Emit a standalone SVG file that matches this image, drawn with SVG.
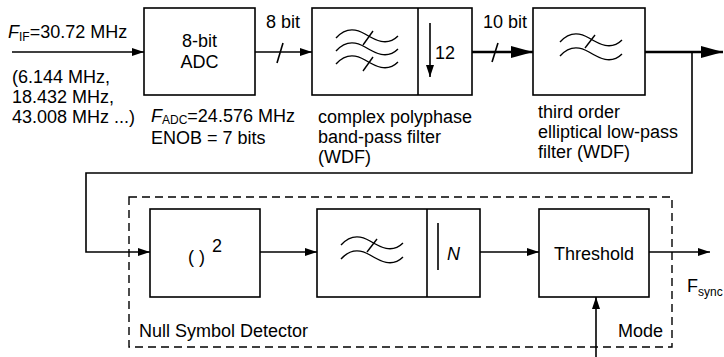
<svg xmlns="http://www.w3.org/2000/svg" width="724" height="357" viewBox="0 0 724 357">
<style>
text{font-family:"Liberation Sans",Arial,sans-serif;font-size:18px;fill:#000}
.box{fill:#fff;stroke:#000;stroke-width:1.6}
.ln{fill:none;stroke:#000;stroke-width:1.6}
.thick{fill:none;stroke:#000;stroke-width:2.6}
.wave{fill:none;stroke:#000;stroke-width:1.4}
.dash{fill:none;stroke:#000;stroke-width:1.4;stroke-dasharray:8,5}
.sub{font-size:12px}
</style>
<defs>
<marker id="ah" markerWidth="12" markerHeight="8" refX="12" refY="4" orient="auto" markerUnits="userSpaceOnUse"><path d="M0,0 L12,4 L0,8 Z" fill="#000"/></marker>
<marker id="ahb" markerWidth="22" markerHeight="12" refX="22" refY="6" orient="auto" markerUnits="userSpaceOnUse"><path d="M0,0 L22,6 L0,12 Z" fill="#000"/></marker>
<path id="wv" d="M0,7 C9,-3 19,-3 29,3 S51,16 62,5"/>
</defs>

<g id="connectors">
<line class="ln" x1="12" y1="52" x2="144" y2="52" marker-end="url(#ah)"/>
<line class="ln" x1="255" y1="52" x2="312" y2="52" marker-end="url(#ah)"/>
<line class="ln" x1="283" y1="43" x2="277" y2="63"/>
<line class="thick" x1="472" y1="52" x2="533" y2="52" marker-end="url(#ahb)"/>
<line class="ln" x1="498" y1="43" x2="492" y2="62"/>
<line class="thick" x1="645" y1="52" x2="723" y2="52" marker-end="url(#ahb)"/>
<polyline class="ln" points="692,52 692,173 86,173 86,252 150,252" marker-end="url(#ah)"/>
<line class="ln" x1="260" y1="252" x2="317" y2="252" marker-end="url(#ah)"/>
<line class="ln" x1="480" y1="252" x2="539" y2="252" marker-end="url(#ah)"/>
<line class="ln" x1="649" y1="252" x2="710" y2="252" marker-end="url(#ah)"/>
<line class="ln" x1="596" y1="357" x2="596" y2="297" marker-end="url(#ah)"/>
</g>

<g id="labels">
<text x="8" y="38"><tspan font-style="italic">F</tspan><tspan class="sub" dy="3">IF</tspan><tspan dy="-3">=30.72 MHz</tspan></text>
<text x="12" y="83">(6.144 MHz,</text>
<text x="12" y="103">18.432 MHz,</text>
<text x="12" y="123">43.008 MHz ...)</text>
<text x="266" y="28">8 bit</text>
<text x="483" y="28">10 bit</text>
</g>

<g id="adc">
<rect class="box" x="144" y="8" width="111" height="87"/>
<text x="199.5" y="47" text-anchor="middle">8-bit</text>
<text x="199.5" y="68" text-anchor="middle">ADC</text>
<text x="151" y="122"><tspan font-style="italic">F</tspan><tspan class="sub" dy="2">ADC</tspan><tspan dy="-2">=24.576 MHz</tspan></text>
<text x="151" y="144">ENOB = 7 bits</text>
</g>

<g id="polyphase">
<rect class="box" x="312" y="8" width="160" height="87"/>
<line class="ln" x1="418" y1="8" x2="418" y2="95"/>
<use href="#wv" class="wave" x="336" y="31"/>
<use href="#wv" class="wave" x="336" y="44"/>
<use href="#wv" class="wave" x="336" y="57"/>
<line class="wave" x1="373" y1="31" x2="363" y2="45"/>
<line class="wave" x1="373" y1="57" x2="363" y2="71"/>
<line class="ln" x1="430" y1="23" x2="430" y2="77" marker-end="url(#ah)"/>
<text x="435" y="59">12</text>
<text x="318" y="123">complex polyphase</text>
<text x="318" y="143">band-pass filter</text>
<text x="318" y="163">(WDF)</text>
</g>

<g id="lowpass">
<rect class="box" x="533" y="8" width="112" height="87"/>
<use href="#wv" class="wave" x="560" y="35"/>
<use href="#wv" class="wave" x="560" y="49"/>
<line class="wave" x1="595" y1="35" x2="585" y2="48"/>
<text x="538" y="118">third order</text>
<text x="538" y="138">elliptical low-pass</text>
<text x="538" y="158">filter (WDF)</text>
</g>

<g id="detector">
<rect class="dash" x="129" y="197" width="543" height="150"/>
<text x="139" y="337">Null Symbol Detector</text>
<text x="618" y="337">Mode</text>
</g>

<g id="square">
<rect class="box" x="150" y="209" width="110" height="88"/>
<text x="188" y="263">( )</text>
<text x="212" y="252">2</text>
</g>

<g id="lpdec">
<rect class="box" x="317" y="209" width="163" height="88"/>
<line class="ln" x1="427" y1="209" x2="427" y2="297"/>
<use href="#wv" class="wave" x="341" y="238"/>
<use href="#wv" class="wave" x="341" y="252"/>
<line class="wave" x1="377" y1="239" x2="367" y2="252"/>
<line class="ln" x1="438" y1="223" x2="438" y2="270"/>
<text x="447" y="260" font-style="italic">N</text>
</g>

<g id="threshold">
<rect class="box" x="539" y="209" width="110" height="88"/>
<text x="594" y="260" text-anchor="middle">Threshold</text>
<text x="687" y="292">F<tspan class="sub" dy="4">sync</tspan></text>
</g>
</svg>
